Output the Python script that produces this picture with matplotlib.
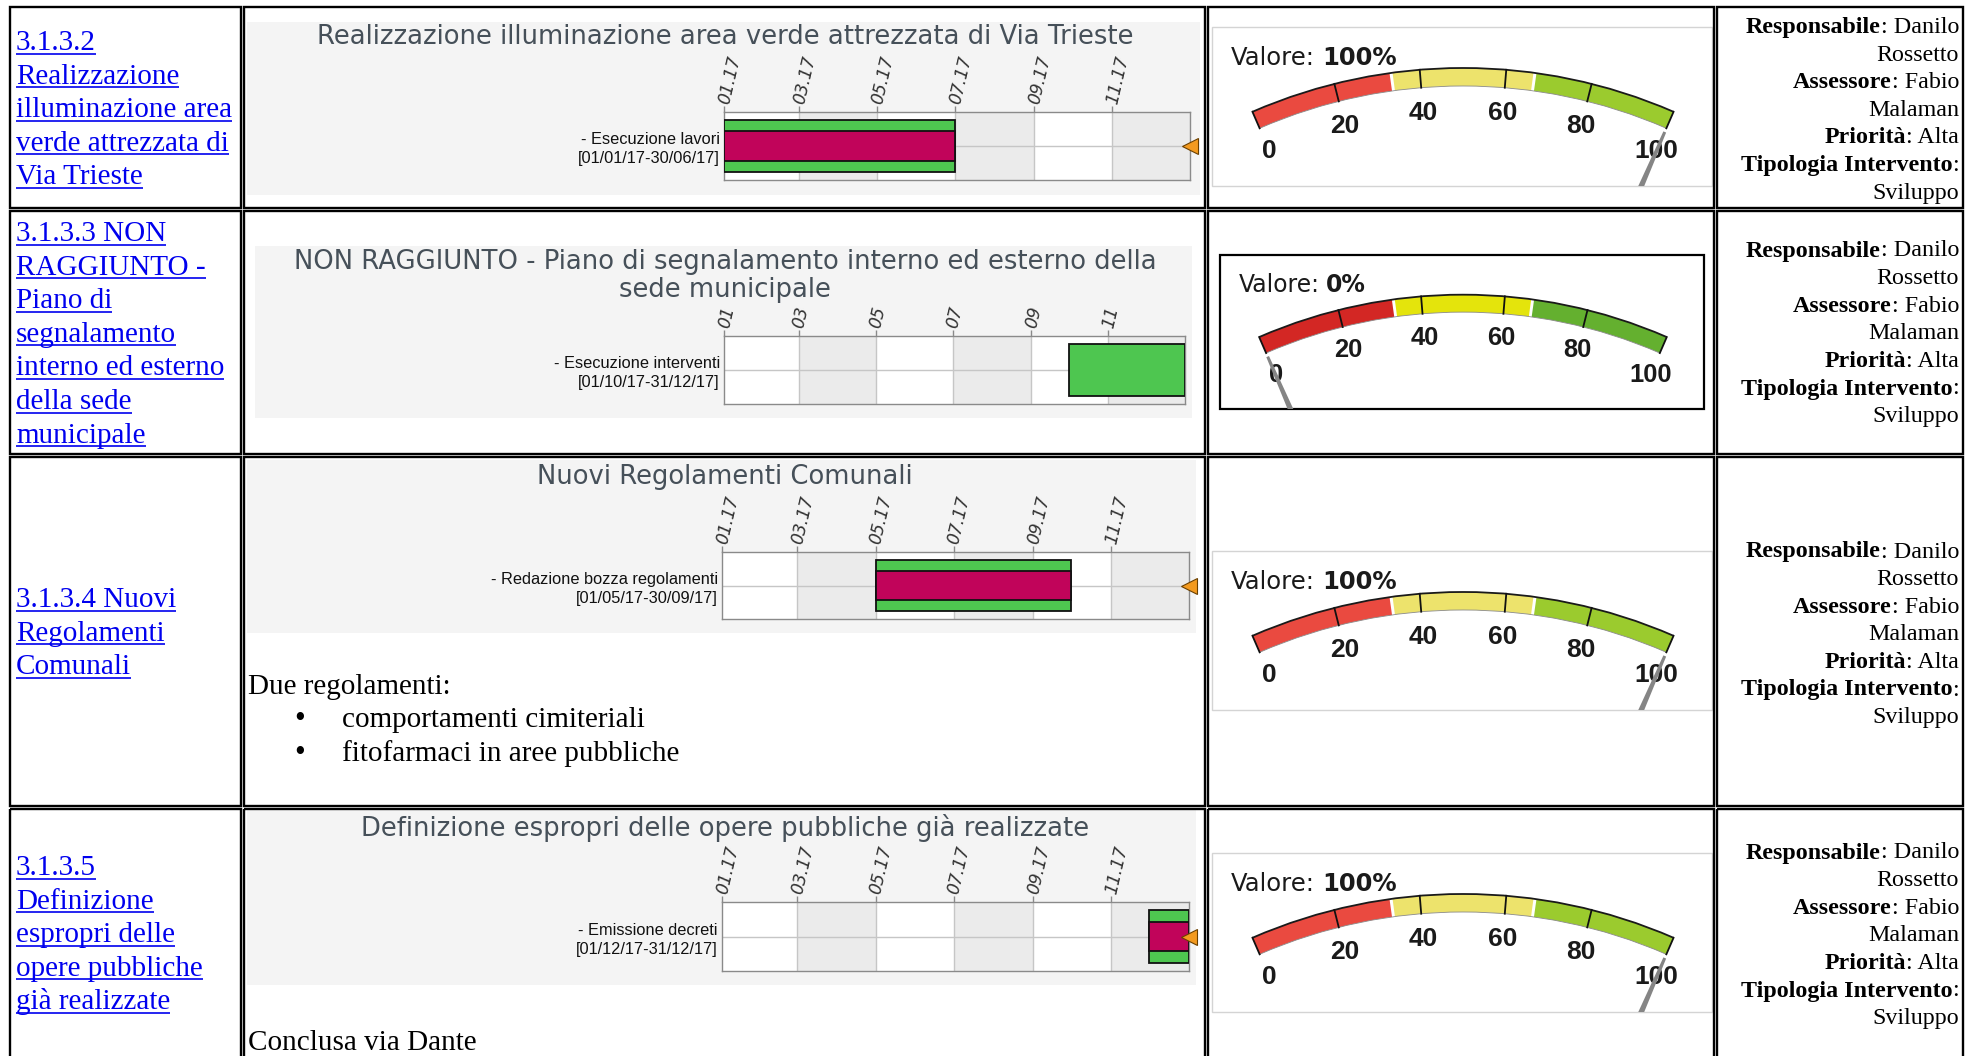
import matplotlib
matplotlib.use("Agg")
import matplotlib.pyplot as plt
import matplotlib.dates as mdates
from matplotlib.patches import Rectangle, Wedge, Polygon, Arc
import numpy as np
from datetime import datetime, timedelta

W, H = 1973, 1056

# ---------------- data ----------------
obj_lines = [
    ["3.1.3.2", "Realizzazione", "illuminazione area", "verde attrezzata di", "Via Trieste"],
    ["3.1.3.3 NON", "RAGGIUNTO -", "Piano di", "segnalamento", "interno ed esterno", "della sede", "municipale"],
    ["3.1.3.4 Nuovi", "Regolamenti", "Comunali"],
    ["3.1.3.5", "Definizione", "espropri delle", "opere pubbliche", "già realizzate"],
]
gantt_titles = [
    ["Realizzazione illuminazione area verde attrezzata di Via Trieste"],
    ["NON RAGGIUNTO - Piano di segnalamento interno ed esterno della", "sede municipale"],
    ["Nuovi Regolamenti Comunali"],
    ["Definizione espropri delle opere pubbliche già realizzate"],
]
task_names = ["Esecuzione lavori", "Esecuzione interventi",
              "Redazione bozza regolamenti", "Emissione decreti"]
task_start = ["01/01/17", "01/10/17", "01/05/17", "01/12/17"]
task_end = ["30/06/17", "31/12/17", "30/09/17", "31/12/17"]
task_progress = [100, 0, 100, 100]
month_ticks = ["2017-01-01", "2017-03-01", "2017-05-01",
               "2017-07-01", "2017-09-01", "2017-11-01"]
month_labels_full = ["01.17", "03.17", "05.17", "07.17", "09.17", "11.17"]
month_labels_short = ["01", "03", "05", "07", "09", "11"]
axis_start, axis_end = "2017-01-01", "2018-01-01"

gauge_values = [100, 0, 100, 100]
gauge_ticks = [0, 20, 40, 60, 80, 100]
gauge_band_edges = [0, 33.33, 66.67, 100]

notes_row3 = ["Due regolamenti:", "comportamenti cimiteriali", "fitofarmaci in aree pubbliche"]
notes_row4 = ["Conclusa via Dante"]

info_lines = [("Responsabile", ": Danilo"), ("", "Rossetto"),
              ("Assessore", ": Fabio"), ("", "Malaman"),
              ("Priorità", ": Alta"), ("Tipologia Intervento", ":"),
              ("", "Sviluppo")]

# ---------------- layout ----------------
cols = [(10, 241), (244, 1205), (1208, 1714), (1717, 1963)]
rows = [(7, 208), (211, 454), (457, 806), (809, 1080)]
left_first = [50, 241, 607, 875]
right_first = [33, 256.5, 557.5, 858.5]
gantt_bg = [(247, 22, 1200, 195), (255, 246, 1192, 418),
            (247, 460, 1196, 633), (247, 810, 1196, 985)]
plot_boxes = [(724, 112, 1190, 180), (724, 336, 1185, 404),
              (722, 552, 1189, 619), (722, 902, 1189, 971)]
title_y = [[37], [262, 290], [477], [828]]
gauge_boxes = [(1212, 27, 1712, 186), (1220, 255, 1704, 409),
               (1212, 551, 1712, 710), (1212, 853, 1712, 1012)]
pal_soft = ['#ea4a40', '#ede36c', '#9bcb2e']
pal_vivid = ['#d32724', '#e4e40c', '#64b02f']

fig = plt.figure(figsize=(W / 100, H / 100), dpi=100, facecolor='white')
bg = fig.add_axes([0, 0, 1, 1])
bg.set_xlim(0, W)
bg.set_ylim(H, 0)
bg.set_autoscale_on(False)
bg.axis('off')
R = fig.canvas.get_renderer()


def rect(b):
    x0, y0, x1, y1 = b
    return [x0 / W, 1 - y1 / H, (x1 - x0) / W, (y1 - y0) / H]


def twidth(t):
    return t.get_window_extent(renderer=R).width


# table cells
for (c0, c1) in cols:
    for (r0, r1) in rows:
        bg.add_patch(Rectangle((c0, r0), c1 - c0, r1 - r0, fc='none', ec='black',
                               lw=1.7, zorder=6))

SERIF = 'Liberation Serif'
BODY = 21

# left column: underlined links
for r, lines in enumerate(obj_lines):
    for k, line in enumerate(lines):
        yb = left_first[r] + k * 33.6
        t = bg.text(16, yb, line, ha='left', va='baseline', fontsize=BODY,
                    family=SERIF, color='#0000ee', zorder=7)
        w = twidth(t)
        bg.plot([16, 16 + w], [yb + 3.5, yb + 3.5], color='#0000ee', lw=1.2,
                solid_capstyle='butt', zorder=7)

# right column
for r in range(4):
    for k, (b, reg) in enumerate(info_lines):
        yb = right_first[r] + k * 27.6
        xr = 1959
        tr = bg.text(xr, yb, reg, ha='right', va='baseline', fontsize=17.3,
                     family=SERIF, color='black', zorder=7)
        if b:
            wr = twidth(tr)
            bg.text(xr - wr, yb, b, ha='right', va='baseline', fontsize=17.3,
                    family=SERIF, weight='bold', color='black', zorder=7)

# notes in the middle column
bg.text(248, 694, notes_row3[0], ha='left', va='baseline', fontsize=BODY, family=SERIF, zorder=7)
for k, line in enumerate(notes_row3[1:]):
    yb = 727 + k * 33.6
    bg.text(300, yb, "•", ha='center', va='baseline', fontsize=22, family=SERIF, zorder=7)
    bg.text(342, yb, line, ha='left', va='baseline', fontsize=BODY, family=SERIF, zorder=7)
bg.text(248, 1050, notes_row4[0], ha='left', va='baseline', fontsize=BODY, family=SERIF, zorder=7)

# ---------------- gantt charts ----------------
x_lo = mdates.datestr2num(axis_start)
x_hi = mdates.datestr2num(axis_end)
tick_nums = [mdates.datestr2num(t) for t in month_ticks]

for i in range(4):
    bx = gantt_bg[i]
    bg.add_patch(Rectangle((bx[0], bx[1]), bx[2] - bx[0], bx[3] - bx[1],
                           fc='#f4f4f4', ec='none', zorder=1))
    for line, yc in zip(gantt_titles[i], title_y[i]):
        bg.text(725, yc, line, ha='center', va='center', fontsize=18.6,
                color='#465059', family='DejaVu Sans', zorder=3)

    ax = fig.add_axes(rect(plot_boxes[i]))
    ax.set_xlim(x_lo, x_hi)
    ax.set_ylim(-0.5, 0.5)
    ax.set_facecolor('white')
    edges = tick_nums + [x_hi]
    for k in range(1, len(tick_nums), 2):
        ax.axvspan(edges[k], edges[k + 1], color='#ebebeb', lw=0, zorder=0)
    for t in tick_nums[1:]:
        ax.axvline(t, color='#c6c6c6', lw=1, zorder=1)
    ax.axhline(0, color='#c6c6c6', lw=1, zorder=1)

    s = mdates.date2num(datetime.strptime(task_start[i], "%d/%m/%y"))
    e = mdates.date2num(datetime.strptime(task_end[i], "%d/%m/%y") + timedelta(days=1))
    ax.barh(0, e - s, left=s, height=0.76, color='#4ec650', edgecolor='#111111',
            linewidth=1.3, zorder=3)
    if task_progress[i] > 0:
        ax.barh(0, (e - s) * task_progress[i] / 100, left=s, height=0.43,
                color='#c1045a', edgecolor='#111111', linewidth=1.3, zorder=4)
        ax.plot([x_hi], [0], marker='<', ms=11, color='#f39a1f', mec='#6b4000',
                mew=0.8, clip_on=False, zorder=6, ls='none')

    for sp in ax.spines.values():
        sp.set_color('#8a8a8a')
        sp.set_linewidth(1)
    ax.xaxis.tick_top()
    ax.set_xticks(tick_nums)
    labels = month_labels_short if i == 1 else month_labels_full
    ax.set_xticklabels(labels, rotation=77, rotation_mode='anchor', ha='left',
                       va='center', fontstyle='italic', fontsize=12.3,
                       color='#333333', family='DejaVu Sans')
    ax.tick_params(axis='x', length=4, width=1, color='#8a8a8a', pad=2)
    lab = "- %s\n[%s-%s]" % (task_names[i], task_start[i], task_end[i])
    ax.set_yticks([0])
    ax.set_yticklabels([lab], fontsize=11.8, family='Liberation Sans',
                       linespacing=1.3, multialignment='right', color='#111111')
    ax.tick_params(axis='y', length=0, pad=3)

# ---------------- gauges ----------------
def ang(v):
    return 113.5 - v / 100.0 * 47.0


for i in range(4):
    x0, y0, x1, y1 = gauge_boxes[i]
    w, h = x1 - x0, y1 - y0
    sc = w / 500.0
    vivid = (i == 1)
    pal = pal_vivid if vivid else pal_soft
    bg.add_patch(Rectangle((x0, y0), w, h, fc='white',
                           ec='black' if vivid else '#d4d4d4',
                           lw=1.6 if vivid else 1.0, zorder=2))
    ax = fig.add_axes(rect(gauge_boxes[i]))
    ax.set_xlim(0, w)
    ax.set_ylim(0, h)
    ax.axis('off')
    cx, cy = 251 * sc, h - 569 * sc
    Ro, th = 528 * sc, 18 * sc
    for k in range(3):
        v0 = gauge_band_edges[k] + (0.35 if k > 0 else 0)
        v1 = gauge_band_edges[k + 1] - (0.35 if k < 2 else 0)
        ax.add_patch(Wedge((cx, cy), Ro, ang(v1), ang(v0), width=th,
                           fc=pal[k], ec='none', zorder=2))
    ax.add_patch(Arc((cx, cy), 2 * Ro, 2 * Ro, theta1=ang(100), theta2=ang(0),
                     color='#1a1a1a', lw=1.3, zorder=3))
    ax.add_patch(Arc((cx, cy), 2 * (Ro - th), 2 * (Ro - th), theta1=ang(100),
                     theta2=ang(0), color='#8a8a8a', lw=0.6, zorder=3))
    for v in gauge_ticks:
        a = np.radians(ang(v))
        ax.plot([cx + (Ro - th) * np.cos(a), cx + Ro * np.cos(a)],
                [cy + (Ro - th) * np.sin(a), cy + Ro * np.sin(a)],
                color='#111111', lw=1.3, zorder=4)
        rl = 485 * sc
        ax.text(cx + rl * np.cos(a), cy + rl * np.sin(a), str(v), ha='center',
                va='center', fontsize=19 * sc, weight='bold',
                family='Liberation Sans', color='#1a1a1a', zorder=5)
    a = np.radians(ang(gauge_values[i]))
    ux, uy = np.cos(a), np.sin(a)
    px, py = -uy, ux
    rt = 506 * sc
    pts = [(cx + px * 12 * sc, cy + py * 12 * sc),
           (cx + rt * ux + px * 1.5 * sc, cy + rt * uy + py * 1.5 * sc),
           (cx + rt * ux - px * 1.5 * sc, cy + rt * uy - py * 1.5 * sc),
           (cx - px * 12 * sc, cy - py * 12 * sc)]
    ax.add_patch(Polygon(pts, closed=True, fc='#858585', ec='none', zorder=6))
    fs = 17.5 * sc
    tv = ax.text(19 * sc, h - 31 * sc, "Valore:", ha='left', va='center',
                 fontsize=fs, family='DejaVu Sans', color='#1a1a1a', zorder=7)
    wv = twidth(tv)
    gap = 0.28 * fs * 100 / 72
    ax.text(19 * sc + wv + gap, h - 31 * sc, "%d%%" % gauge_values[i],
            ha='left', va='center', fontsize=fs, family='DejaVu Sans',
            weight='bold', color='#1a1a1a', zorder=7)

bg.set_xlim(0, W)
bg.set_ylim(H, 0)
fig.savefig("out.png", dpi=100, facecolor='white')
